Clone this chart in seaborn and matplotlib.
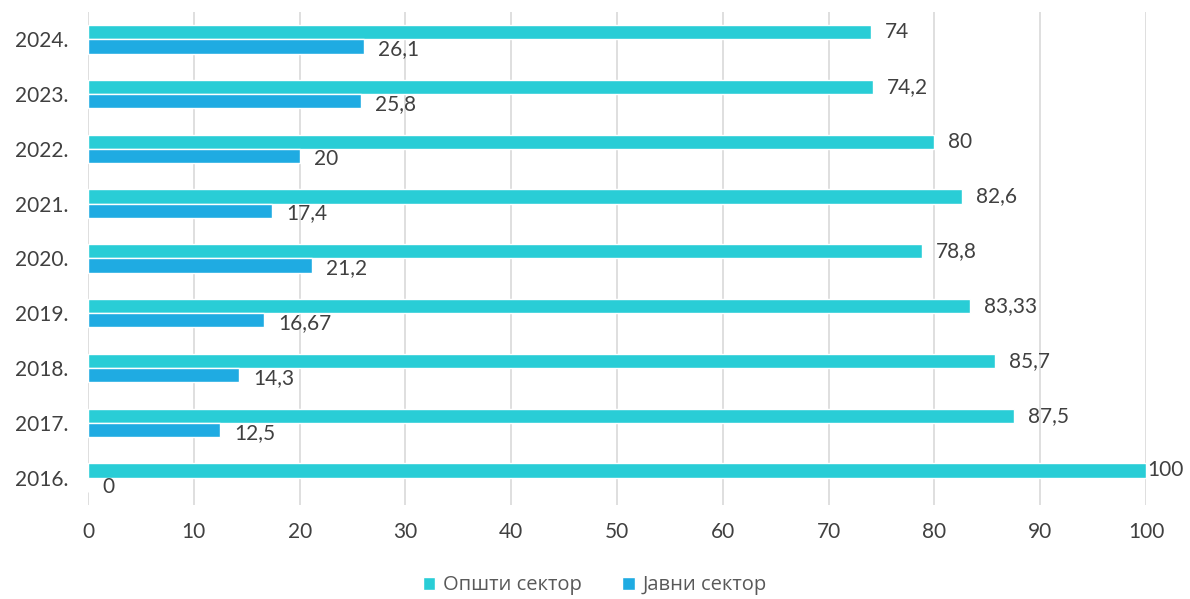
import matplotlib
matplotlib.use("Agg")
import matplotlib.pyplot as plt
import pandas as pd
import seaborn as sns

years = ["2024.", "2023.", "2022.", "2021.", "2020.", "2019.", "2018.", "2017.", "2016."]
opsti = [74, 74.2, 80, 82.6, 78.8, 83.33, 85.7, 87.5, 100]
javni = [26.1, 25.8, 20, 17.4, 21.2, 16.67, 14.3, 12.5, 0]
series = ["Општи сектор", "Јавни сектор"]
colors = ["#29CDD6", "#1FABE2"]

df = pd.DataFrame({
    "year": years * 2,
    "value": opsti + javni,
    "sector": [series[0]] * len(years) + [series[1]] * len(years),
})

sns.set_theme(style="white")
plt.rcParams["font.family"] = ["Lato", "DejaVu Sans"]
text_color = "#404040"

fig = plt.figure(figsize=(11.9, 5.99), dpi=100)
ax = fig.add_axes([0.074, 0.157, 0.889, 0.823])

sns.barplot(data=df, x="value", y="year", hue="sector", order=years,
            hue_order=series, palette=colors, orient="h", width=0.52,
            saturation=1, ax=ax, legend=True)

for cont in ax.containers:
    for bar in cont:
        w = bar.get_width()
        lab = f"{w:g}".replace(".", ",")
        pad = 1 if w >= 100 else 10
        ax.annotate(lab, (w, bar.get_y() + bar.get_height() / 2),
                    xytext=(pad, -2 if cont is ax.containers[1] else 0),
                    textcoords="offset points", va="center", ha="left",
                    fontsize=15, color=text_color)

ax.set_xlim(0, 100)
ax.set_ylim(len(years) - 0.5, -0.5)
ax.set_xticks(range(0, 101, 10))
ax.tick_params(axis="x", labelsize=15, colors=text_color, length=0, pad=12)
ax.tick_params(axis="y", labelsize=15, colors=text_color, length=0, pad=14)
ax.xaxis.grid(True, color="#D9D9D9", linewidth=1.2)
ax.set_axisbelow(True)
for s in ax.spines.values():
    s.set_visible(False)
ax.set_xlabel("")
ax.set_ylabel("")

ax.legend(loc="center", bbox_to_anchor=(0.5, 0.023), bbox_transform=fig.transFigure,
          ncol=2, frameon=False,
          handlelength=0.6, handleheight=0.6, handletextpad=0.4, columnspacing=2.0,
          prop={"family": ["Open Sans", "DejaVu Sans"], "size": 14.5}, labelcolor="#595959")

fig.savefig("out.png", dpi=100)
